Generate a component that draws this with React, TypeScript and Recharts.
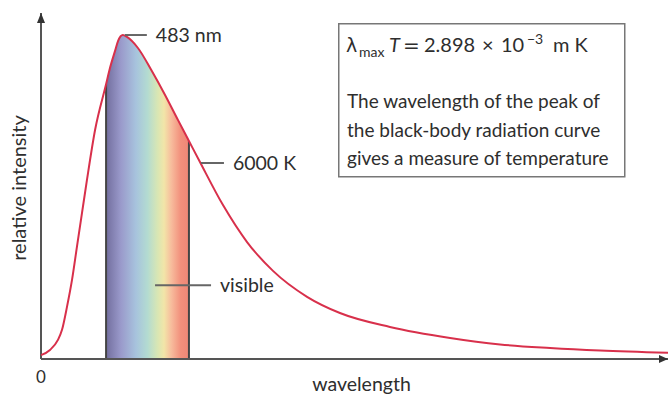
import React from 'react';
import {
  ComposedChart, Line, Area, XAxis, YAxis, ReferenceLine, ReferenceDot,
} from 'recharts';

// wavelength (nm, schematic scale) and relative intensity
const wavelengthNm = [0, 53, 100, 124, 153, 183, 212, 242, 271, 319, 384, 407, 437, 455, 483, 507, 572, 655, 732, 808, 867, 873, 938, 1074, 1216, 1369, 1570, 1764, 2059, 2414, 2709, 3004, 3299, 3700];
const intensity = [0.012, 0.028, 0.059, 0.09, 0.16, 0.244, 0.346, 0.451, 0.552, 0.707, 0.848, 0.898, 0.951, 0.982, 1.0, 0.994, 0.96, 0.888, 0.815, 0.738, 0.679, 0.673, 0.608, 0.475, 0.361, 0.272, 0.192, 0.142, 0.099, 0.065, 0.045, 0.034, 0.026, 0.019];

const visibleRange = [384, 873];
const xMax = 3700;
const yMax = 1.068;
const peakNm = 483;

const peakLabel = '483 nm';
const tempLabel = '6000 K';
const visibleLabel = 'visible';
const tempAnchor = { nm: 938, value: 0.605 };
const visibleAnchor = { nm: 673, value: 0.228 };

const formulaParts = { lambda: 'λ', sub: 'max', T: 'T', eq: '=', mant: '2.898', times: '×', base: '10', exp: '−3', unit: 'm K' };
const boxLines = [
  'The wavelength of the peak of',
  'the black-body radiation curve',
  'gives a measure of temperature',
];

const spectrumStops = [
  { offset: '0%', color: '#726e9e' },
  { offset: '18%', color: '#9a9acb' },
  { offset: '36%', color: '#a7c3dd' },
  { offset: '50%', color: '#b3dbd1' },
  { offset: '62%', color: '#d8e6b4' },
  { offset: '70%', color: '#f2e5a8' },
  { offset: '79%', color: '#f7bb9c' },
  { offset: '90%', color: '#f2907c' },
  { offset: '100%', color: '#ef8676' },
];

const data = wavelengthNm.map((nm, i) => ({
  nm,
  intensity: intensity[i],
  visible: nm >= visibleRange[0] && nm <= visibleRange[1] ? intensity[i] : null,
}));

const valueAt = (nm: number) => intensity[wavelengthNm.indexOf(nm)];

const FONT = 'Lato, "Noto Sans", sans-serif';
const TEXT = '#2e2e2e';
const AXIS = '#555';
const RED = '#d8304b';

const annot = (label: string, lineStart: number, lineEnd: number, textX: number, dy: number) =>
  (props: any) => {
    const { cx, cy } = props;
    return (
      <g>
        <line x1={cx + lineStart} y1={cy} x2={cx + lineEnd} y2={cy} stroke="#666" strokeWidth={2} />
        <text x={cx + textX} y={cy + dy} fontFamily={FONT} fontSize={19.5} fill={TEXT}>{label}</text>
      </g>
    );
  };

const xArrow = (props: any) => {
  const { cx, cy } = props;
  return <path d={`M${cx - 9},${cy - 4} L${cx},${cy} L${cx - 9},${cy + 4} Z`} fill="#333" />;
};
const yArrow = (props: any) => {
  const { cx, cy } = props;
  return <path d={`M${cx - 4},${cy + 10} L${cx},${cy} L${cx + 4},${cy + 10} Z`} fill="#333" />;
};

export default function App() {
  return (
    <div style={{ position: 'absolute', left: 0, top: 0, width: 669, height: 395, background: '#fff' }}>
      <ComposedChart
        width={669}
        height={395}
        data={data}
        margin={{ top: 13, right: 1, left: 0, bottom: 0 }}
      >
        <defs>
          <linearGradient id="spectrum" x1="0" y1="0" x2="1" y2="0">
            {spectrumStops.map((s) => (
              <stop key={s.offset} offset={s.offset} stopColor={s.color} />
            ))}
          </linearGradient>
        </defs>
        <XAxis
          dataKey="nm"
          type="number"
          domain={[0, xMax]}
          ticks={[0]}
          axisLine={false}
          tickLine={false}
          tickMargin={6}
          height={36}
          tick={{ fontFamily: FONT, fontSize: 17, fill: TEXT }}
          label={{ value: 'wavelength', position: 'insideBottom', offset: 4, dx: 7, style: { fontFamily: FONT, fontSize: 19.5, fill: TEXT } }}
        />
        <YAxis
          type="number"
          domain={[0, yMax]}
          width={41}
          tick={false}
          axisLine={false}
          tickLine={false}
          label={{
            content: (p: any) => {
              const vb = p.viewBox;
              const x = vb.x + 21;
              const y = vb.y + vb.height / 2 + 2;
              return (
                <text x={x} y={y} transform={`rotate(-90 ${x} ${y})`} textAnchor="middle" dominantBaseline="middle"
                  fontFamily={FONT} fontSize={20} fill={TEXT}>relative intensity</text>
              );
            },
          }}
        />
        <Area
          type="monotone"
          dataKey="visible"
          fill="url(#spectrum)"
          fillOpacity={1}
          stroke="none"
          isAnimationActive={false}
          connectNulls={false}
        />
        <ReferenceLine segment={[{ x: visibleRange[0], y: 0 }, { x: visibleRange[0], y: valueAt(visibleRange[0]) }]} stroke="#444" strokeWidth={2} />
        <ReferenceLine segment={[{ x: visibleRange[1], y: 0 }, { x: visibleRange[1], y: valueAt(visibleRange[1]) }]} stroke="#444" strokeWidth={2} />
        <ReferenceLine segment={[{ x: 0, y: 0 }, { x: xMax, y: 0 }]} stroke={AXIS} strokeWidth={2} />
        <ReferenceLine segment={[{ x: 0, y: 0 }, { x: 0, y: yMax }]} stroke={AXIS} strokeWidth={2} />
        <Line
          type="monotone"
          dataKey="intensity"
          stroke={RED}
          strokeWidth={2}
          dot={false}
          isAnimationActive={false}
        />
        <ReferenceDot x={xMax} y={0} r={0} shape={xArrow} />
        <ReferenceDot x={0} y={yMax} r={0} shape={yArrow} />
        <ReferenceDot x={peakNm} y={valueAt(peakNm)} r={0} shape={annot(peakLabel, 2, 24, 33, 7)} />
        <ReferenceDot x={tempAnchor.nm} y={tempAnchor.value} r={0} shape={annot(tempLabel, 1, 24, 33, 7)} />
        <ReferenceDot x={visibleAnchor.nm} y={visibleAnchor.value} r={0} shape={annot(visibleLabel, 0, 56, 65, 7)} />
      </ComposedChart>
      <svg width={669} height={395} style={{ position: 'absolute', left: 0, top: 0, pointerEvents: 'none' }}>
        <rect x={338.75} y={23.75} width={286} height={153} fill="none" stroke="#777" strokeWidth={1.5} />
        <text y={52} fontFamily={FONT} fontSize={20} fill={TEXT}>
          <tspan x={346} fontFamily='"DejaVu Sans", sans-serif' fontSize={19}>{formulaParts.lambda}</tspan>
          <tspan x={359} dy={5} fontSize={14}>{formulaParts.sub}</tspan>
          <tspan x={389} dy={-5} fontStyle="italic">{formulaParts.T}</tspan>
          <tspan x={403} fontFamily='"DejaVu Sans", sans-serif'>{formulaParts.eq}</tspan>
          <tspan x={424}>{formulaParts.mant}</tspan>
          <tspan x={482}>{formulaParts.times}</tspan>
          <tspan x={501}>{formulaParts.base}</tspan>
          <tspan x={527} dy={-8} fontSize={14}>{formulaParts.exp}</tspan>
          <tspan x={553} dy={8}>{formulaParts.unit}</tspan>
        </text>
        {boxLines.map((l, i) => (
          <text key={i} x={347} y={108 + i * 28.5} fontFamily={FONT} fontSize={19} fill={TEXT}>{l}</text>
        ))}
      </svg>
    </div>
  );
}
